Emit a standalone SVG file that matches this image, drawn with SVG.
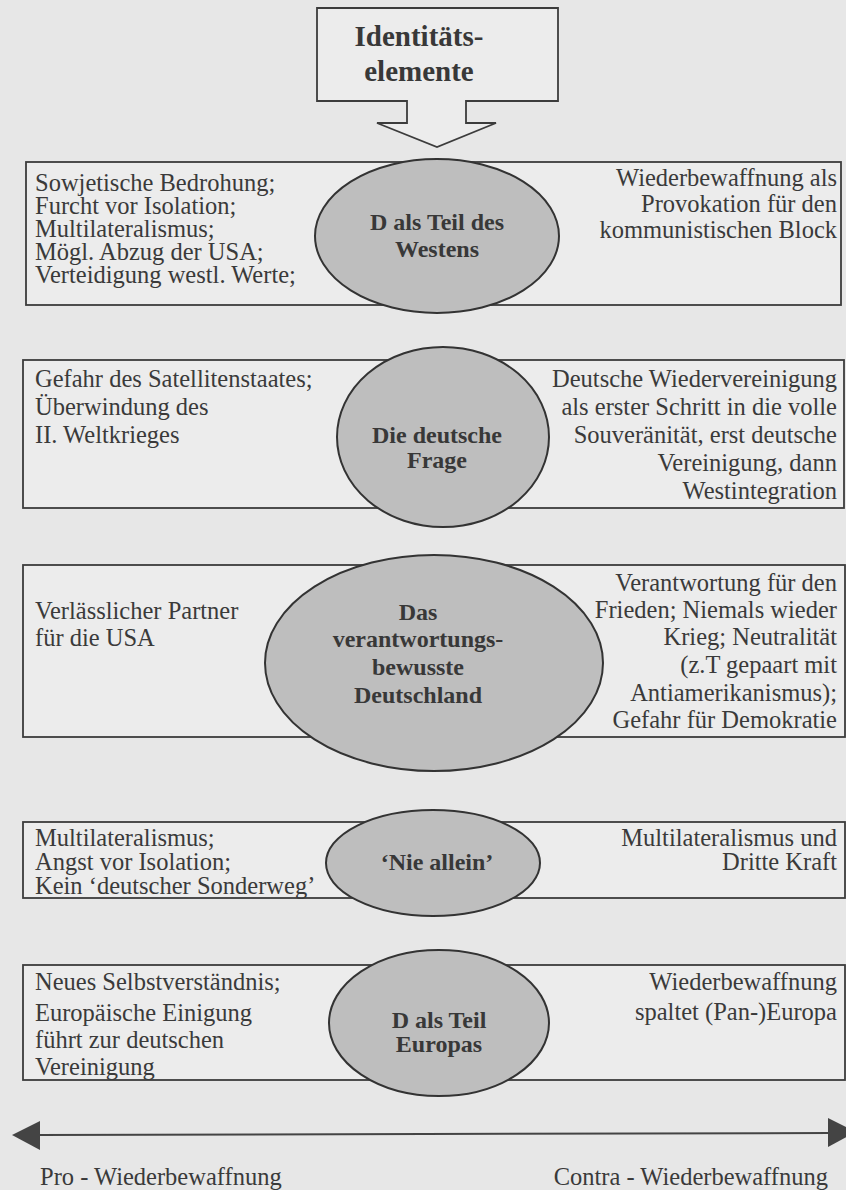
<svg xmlns="http://www.w3.org/2000/svg" width="846" height="1190" viewBox="0 0 846 1190">
<style>
  .bg { fill: #e7e7e7; }
  .box { fill: #ececec; stroke: #3c3c3c; stroke-width: 1.8; }
  .ell { fill: #bebebe; stroke: #333333; stroke-width: 2; }
  .t { font-family: "Liberation Serif", "Times New Roman", serif; font-size: 24.5px; fill: #3a3a3a; }
  .r { text-anchor: end; }
  .b { font-family: "Liberation Serif", "Times New Roman", serif; font-weight: bold; font-size: 24px; fill: #383838; text-anchor: middle; }
  .line { stroke: #444444; stroke-width: 2; fill: none; }
  .head { fill: #444444; }
</style>
<rect class="bg" x="0" y="0" width="846" height="1190"/>

<g id="identitaetselemente">
  <path class="box" d="M317,8 H558 V101 H466 V123 H496 L437,147 L377,123 H407 V101 H317 Z"/>
  <text class="b" x="419" y="46" style="font-size:29px">Identitäts-</text>
  <text class="b" x="419" y="81" style="font-size:29px">elemente</text>
</g>

<g id="row-westen">
  <rect class="box" x="26" y="162" width="815" height="143"/>
  <text class="t" x="35" y="191">Sowjetische Bedrohung;</text>
  <text class="t" x="35" y="214">Furcht vor Isolation;</text>
  <text class="t" x="35" y="237">Multilateralismus;</text>
  <text class="t" x="35" y="260">Mögl. Abzug der USA;</text>
  <text class="t" x="35" y="283">Verteidigung westl. Werte;</text>
  <text class="t r" x="837" y="186">Wiederbewaffnung als</text>
  <text class="t r" x="837" y="212">Provokation für den</text>
  <text class="t r" x="837" y="238">kommunistischen Block</text>
  <ellipse class="ell" cx="437" cy="236" rx="122" ry="77"/>
  <text class="b" x="437" y="230">D als Teil des</text>
  <text class="b" x="437" y="257">Westens</text>
</g>

<g id="row-deutsche-frage">
  <rect class="box" x="23" y="360" width="821" height="148"/>
  <text class="t" x="35" y="387">Gefahr des Satellitenstaates;</text>
  <text class="t" x="35" y="415">Überwindung des</text>
  <text class="t" x="35" y="443">II. Weltkrieges</text>
  <text class="t r" x="837" y="387">Deutsche Wiedervereinigung</text>
  <text class="t r" x="837" y="415">als erster Schritt in die volle</text>
  <text class="t r" x="837" y="443">Souveränität, erst deutsche</text>
  <text class="t r" x="837" y="471">Vereinigung, dann</text>
  <text class="t r" x="837" y="499">Westintegration</text>
  <ellipse class="ell" cx="443" cy="437" rx="106" ry="90"/>
  <text class="b" x="437" y="443">Die deutsche</text>
  <text class="b" x="437" y="468">Frage</text>
</g>

<g id="row-verantwortung">
  <rect class="box" x="23" y="565" width="822" height="172"/>
  <text class="t" x="35" y="619">Verlässlicher Partner</text>
  <text class="t" x="35" y="646">für die USA</text>
  <text class="t r" x="837" y="591">Verantwortung für den</text>
  <text class="t r" x="837" y="618">Frieden; Niemals wieder</text>
  <text class="t r" x="837" y="645">Krieg; Neutralität</text>
  <text class="t r" x="837" y="673">(z.T gepaart mit</text>
  <text class="t r" x="837" y="701">Antiamerikanismus);</text>
  <text class="t r" x="837" y="728">Gefahr für Demokratie</text>
  <ellipse class="ell" cx="434" cy="663" rx="169" ry="108"/>
  <text class="b" x="418" y="620">Das</text>
  <text class="b" x="418" y="647">verantwortungs-</text>
  <text class="b" x="418" y="675">bewusste</text>
  <text class="b" x="418" y="703">Deutschland</text>
</g>

<g id="row-nie-allein">
  <rect class="box" x="23" y="822" width="822" height="76"/>
  <text class="t" x="35" y="846">Multilateralismus;</text>
  <text class="t" x="35" y="870">Angst vor Isolation;</text>
  <text class="t" x="35" y="894">Kein ‘deutscher Sonderweg’</text>
  <text class="t r" x="837" y="846">Multilateralismus und</text>
  <text class="t r" x="837" y="870">Dritte Kraft</text>
  <ellipse class="ell" cx="433" cy="863" rx="107" ry="53"/>
  <text class="b" x="437" y="870">‘Nie allein’</text>
</g>

<g id="row-europa">
  <rect class="box" x="23" y="965" width="822" height="115"/>
  <text class="t" x="35" y="990">Neues Selbstverständnis;</text>
  <text class="t" x="35" y="1021">Europäische Einigung</text>
  <text class="t" x="35" y="1048">führt zur deutschen</text>
  <text class="t" x="35" y="1075">Vereinigung</text>
  <text class="t r" x="837" y="990">Wiederbewaffnung</text>
  <text class="t r" x="837" y="1020">spaltet (Pan-)Europa</text>
  <ellipse class="ell" cx="439" cy="1023" rx="110" ry="73"/>
  <text class="b" x="439" y="1028">D als Teil</text>
  <text class="b" x="439" y="1052">Europas</text>
</g>

<g id="connectors">
  <line class="line" x1="38" y1="1135" x2="830" y2="1133"/>
  <polygon class="head" points="12,1135 40,1121 40,1150"/>
  <polygon class="head" points="828,1118 828,1147 856,1132"/>
</g>

<g id="axis-labels">
  <text class="t" x="40" y="1185">Pro - Wiederbewaffnung</text>
  <text class="t r" x="828" y="1185">Contra - Wiederbewaffnung</text>
</g>
</svg>
